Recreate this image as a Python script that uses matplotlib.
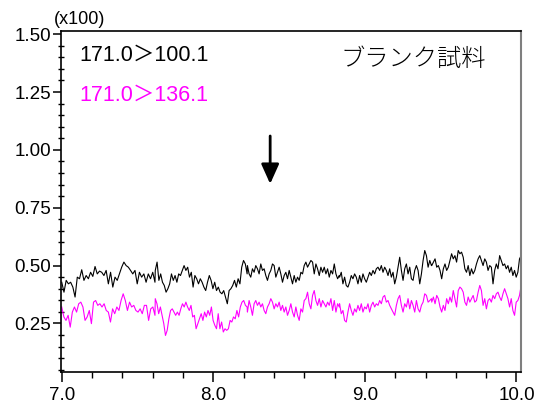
import numpy as np
import matplotlib
matplotlib.use("Agg")
import matplotlib.pyplot as plt
from matplotlib.ticker import MultipleLocator, FormatStrFormatter

plt.rcParams['font.family'] = ['Liberation Sans', 'Noto Sans CJK JP', 'DejaVu Sans']

# time windows (min) covered by each block of readings
seg_edges = [7.0, 7.615, 7.617, 8.223, 8.225, 8.831, 8.833, 9.439, 9.441, 10.031]

# 171.0>100.1 trace (x100 counts), read block by block
black_a = [0.428, 0.385, 0.436, 0.421, 0.428, 0.407, 0.364, 0.450, 0.443, 0.482, 0.436, 0.457,
           0.443, 0.471, 0.453, 0.496, 0.464, 0.476, 0.471, 0.457, 0.479, 0.421, 0.471, 0.407,
           0.450, 0.436, 0.464, 0.493, 0.515, 0.500, 0.493, 0.479, 0.464, 0.479, 0.421, 0.471,
           0.450, 0.464, 0.428, 0.464, 0.443, 0.471, 0.428]
black_b = [0.479, 0.515, 0.436, 0.464, 0.428, 0.414, 0.385, 0.400, 0.421, 0.464, 0.436, 0.457,
           0.428, 0.464, 0.457, 0.479, 0.500, 0.479, 0.493, 0.450, 0.471, 0.407, 0.457, 0.443,
           0.421, 0.443, 0.428, 0.407, 0.392, 0.428, 0.457, 0.436, 0.400, 0.428, 0.392, 0.407,
           0.385, 0.378, 0.392, 0.364, 0.335, 0.392, 0.400, 0.414, 0.436, 0.407, 0.443, 0.421,
           0.493, 0.522, 0.507, 0.464]
black_c = [0.500, 0.464, 0.450, 0.486, 0.471, 0.500, 0.486, 0.464, 0.507, 0.479, 0.486, 0.457,
           0.436, 0.464, 0.479, 0.507, 0.500, 0.450, 0.471, 0.493, 0.464, 0.428, 0.457, 0.471,
           0.443, 0.479, 0.450, 0.421, 0.457, 0.428, 0.450, 0.436, 0.471, 0.464, 0.500, 0.515,
           0.493, 0.507, 0.522, 0.515, 0.464, 0.507, 0.486, 0.457, 0.493, 0.471, 0.493, 0.464,
           0.486, 0.450, 0.479, 0.464, 0.507, 0.464, 0.443, 0.457]
black_d = [0.450, 0.471, 0.421, 0.450, 0.414, 0.407, 0.428, 0.457, 0.443, 0.464, 0.450, 0.421,
           0.457, 0.428, 0.464, 0.443, 0.428, 0.450, 0.471, 0.457, 0.479, 0.464, 0.486, 0.493,
           0.479, 0.500, 0.471, 0.493, 0.479, 0.457, 0.486, 0.450, 0.471, 0.421, 0.450, 0.493,
           0.536, 0.479, 0.436, 0.486, 0.507, 0.464, 0.493, 0.443, 0.436, 0.479, 0.500, 0.479,
           0.421, 0.464, 0.522, 0.565, 0.543, 0.493, 0.522, 0.500]
black_e = [0.500, 0.515, 0.529, 0.493, 0.500, 0.479, 0.443, 0.486, 0.507, 0.479, 0.493, 0.522,
           0.551, 0.529, 0.543, 0.515, 0.565, 0.551, 0.558, 0.536, 0.486, 0.471, 0.500, 0.457,
           0.486, 0.464, 0.479, 0.507, 0.529, 0.543, 0.522, 0.500, 0.529, 0.515, 0.479, 0.500,
           0.493, 0.421, 0.479, 0.507, 0.486, 0.543, 0.522, 0.500, 0.507, 0.486, 0.500, 0.471,
           0.493, 0.457, 0.479, 0.450, 0.471, 0.529, 0.543]

# 171.0>136.1 trace
mag_a = [0.321, 0.278, 0.263, 0.285, 0.234, 0.299, 0.321, 0.299, 0.335, 0.342, 0.321, 0.263,
         0.278, 0.306, 0.249, 0.342, 0.349, 0.328, 0.335, 0.321, 0.335, 0.306, 0.299, 0.256,
         0.313, 0.292, 0.321, 0.306, 0.349, 0.378, 0.349, 0.306, 0.342, 0.321, 0.328, 0.306,
         0.299, 0.313, 0.292, 0.328, 0.328, 0.263, 0.313, 0.321, 0.285]
mag_b = [0.357, 0.335, 0.292, 0.321, 0.285, 0.249, 0.198, 0.220, 0.270, 0.306, 0.313, 0.299,
         0.285, 0.299, 0.285, 0.313, 0.335, 0.321, 0.342, 0.321, 0.306, 0.328, 0.278, 0.285,
         0.227, 0.249, 0.270, 0.292, 0.263, 0.299, 0.278, 0.306, 0.285, 0.321, 0.263, 0.242,
         0.227, 0.292, 0.227, 0.256, 0.213, 0.227, 0.220, 0.227, 0.263, 0.256, 0.278, 0.270,
         0.306, 0.278, 0.321, 0.342, 0.349, 0.328, 0.321]
mag_c = [0.299, 0.349, 0.321, 0.285, 0.335, 0.349, 0.328, 0.342, 0.321, 0.335, 0.306, 0.292,
         0.321, 0.335, 0.357, 0.342, 0.313, 0.335, 0.321, 0.342, 0.306, 0.328, 0.299, 0.321,
         0.285, 0.306, 0.335, 0.299, 0.278, 0.321, 0.285, 0.263, 0.313, 0.299, 0.349, 0.357,
         0.385, 0.335, 0.313, 0.371, 0.392, 0.349, 0.328, 0.357, 0.321, 0.349, 0.335, 0.321,
         0.342, 0.328, 0.357, 0.306, 0.349, 0.299, 0.335, 0.321]
mag_d = [0.335, 0.292, 0.306, 0.263, 0.256, 0.299, 0.335, 0.306, 0.285, 0.313, 0.299, 0.328,
         0.306, 0.335, 0.299, 0.321, 0.313, 0.335, 0.299, 0.328, 0.342, 0.321, 0.335, 0.328,
         0.349, 0.335, 0.364, 0.371, 0.342, 0.349, 0.328, 0.313, 0.299, 0.285, 0.328, 0.357,
         0.371, 0.328, 0.299, 0.335, 0.321, 0.357, 0.313, 0.349, 0.328, 0.299, 0.349, 0.313,
         0.299, 0.328, 0.342, 0.378, 0.371, 0.342, 0.349, 0.357]
mag_e = [0.342, 0.364, 0.335, 0.371, 0.357, 0.321, 0.299, 0.328, 0.306, 0.357, 0.335, 0.364,
         0.342, 0.392, 0.357, 0.321, 0.392, 0.407, 0.400, 0.385, 0.342, 0.328, 0.364, 0.342,
         0.357, 0.371, 0.342, 0.349, 0.385, 0.414, 0.392, 0.328, 0.357, 0.313, 0.349, 0.357,
         0.342, 0.371, 0.357, 0.378, 0.385, 0.364, 0.349, 0.378, 0.400, 0.378, 0.357, 0.321,
         0.357, 0.306, 0.285, 0.342, 0.349, 0.371, 0.414]

label_1 = "171.0＞100.1"
label_2 = "171.0＞136.1"
sample_name = "ブランク試料"


def build(blocks):
    t, v = [], []
    for i, blk in enumerate(blocks):
        t.append(np.linspace(seg_edges[2 * i], seg_edges[2 * i + 1], len(blk)))
        v.append(blk)
    return np.concatenate(t), np.concatenate(v)


t_black, y_black = build([black_a, black_b, black_c, black_d, black_e])
t_mag, y_mag = build([mag_a, mag_b, mag_c, mag_d, mag_e])

fig = plt.figure(figsize=(5.47, 4.08), dpi=100)
ax = fig.add_axes([0.1115, 0.0882, 0.841, 0.836])

ax.plot(t_black, y_black, color='black', lw=0.8)
ax.plot(t_mag, y_mag, color='#ff00ff', lw=0.8)

ax.set_xlim(6.995, 10.03)
ax.set_ylim(0.04, 1.514)
ax.xaxis.set_major_locator(MultipleLocator(1.0))
ax.xaxis.set_minor_locator(MultipleLocator(0.2))
ax.yaxis.set_major_locator(MultipleLocator(0.25))
ax.yaxis.set_minor_locator(MultipleLocator(0.05))
ax.xaxis.set_major_formatter(FormatStrFormatter('%.1f'))
ax.yaxis.set_major_formatter(FormatStrFormatter('%.2f'))
ax.tick_params(axis='both', which='major', labelsize=13.5, direction='out', length=7, width=1.1)
ax.tick_params(axis='y', which='major', length=6, pad=1)
ax.tick_params(axis='both', which='minor', direction='out', length=4, width=1.0)
ax.tick_params(axis='y', which='minor', direction='inout', length=5)

for side in ['left', 'bottom', 'top']:
    ax.spines[side].set_linewidth(1.2)
    ax.spines[side].set_color('black')
ax.spines['right'].set_linewidth(1.5)
ax.spines['right'].set_color('#7f7f7f')

ax.text(0.041, 0.93, label_1, transform=ax.transAxes, fontsize=15.5, color='black', va='center')
ax.text(0.041, 0.812, label_2, transform=ax.transAxes, fontsize=15.5, color='#ff00ff', va='center')
ax.text(0.607, 0.915, sample_name, transform=ax.transAxes, fontsize=17.5, color='black',
        va='center', fontweight='light', family=['Noto Sans CJK JP'])
fig.text(0.099, 0.951, "(x100)", fontsize=13, va='center')

ax.annotate('', xy=(8.375, 0.853), xytext=(8.375, 1.06),
            arrowprops=dict(arrowstyle='-|>,head_length=1.0,head_width=0.45',
                            mutation_scale=12, color='black', lw=2.0,
                            shrinkA=0, shrinkB=0))

fig.savefig('out.png', dpi=100)
